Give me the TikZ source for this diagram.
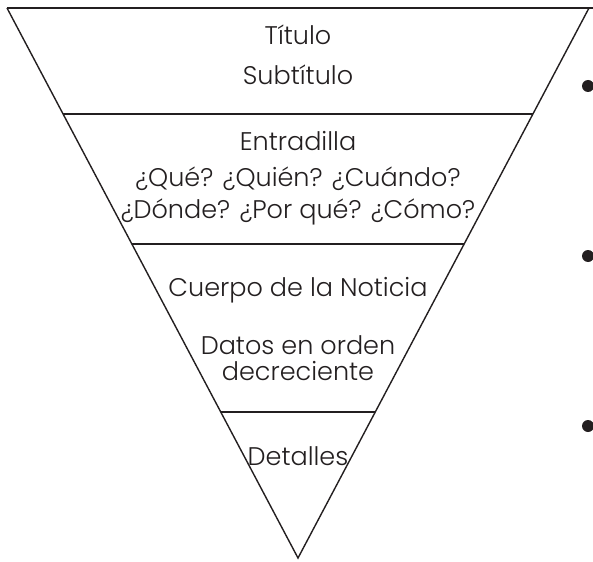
\documentclass[tikz,border=0pt]{standalone}
\usepackage{fontspec}
\setmainfont{Poppins}[UprightFont={* Light}]
\usetikzlibrary{calc}
\definecolor{ink}{HTML}{231F20}
\tikzset{
  edge/.style={draw=ink, line width=1.4pt},
  lbl/.style={text=ink, font=\fontsize{25.5}{32}\selectfont, align=center, inner sep=0pt},
  bullet/.style={circle, fill=ink, minimum size=12pt, inner sep=0pt}
}
\begin{document}
\begin{tikzpicture}[x=1pt,y=-1pt]
\useasboundingbox (0,0) rectangle (593,561);
\coordinate (tl) at (7,8);
\coordinate (tr) at (589,8);
\coordinate (tx) at (593,8);
\coordinate (apex) at (298,558);
\draw[edge] (tl) -- (tx);
\draw[edge] (tl) -- (apex) -- (tr);
\coordinate (l1) at ($(tl)!0.1927!(apex)$);
\coordinate (r1) at ($(tr)!0.1927!(apex)$);
\coordinate (l2) at ($(tl)!0.4291!(apex)$);
\coordinate (r2) at ($(tr)!0.4291!(apex)$);
\coordinate (l3) at ($(tl)!0.7345!(apex)$);
\coordinate (r3) at ($(tr)!0.7345!(apex)$);
\draw[edge] (l1) -- (r1);
\draw[edge] (l2) -- (r2);
\draw[edge] (l3) -- (r3);
\node[lbl] (titulo) at (298,35) {Título};
\node[lbl] (subtitulo) at (298,75) {Subtítulo};
\node[lbl] (entradilla) at (298,141) {Entradilla};
\node[lbl] (preguntas) at (298,196) {¿Qué? ¿Quién? ¿Cuándo?\\¿Dónde? ¿Por qué? ¿Cómo?};
\node[lbl] (cuerpo) at (298,290) {Cuerpo de la Noticia};
\node[lbl] (datos) at (298,358) {Datos en orden\\[-6pt]decreciente};
\node[lbl] (detalles) at (298,456) {Detalles};
\node[bullet] (b1) at (588,86) {};
\node[bullet] (b2) at (588,256) {};
\node[bullet] (b3) at (588,426) {};
\end{tikzpicture}
\end{document}
